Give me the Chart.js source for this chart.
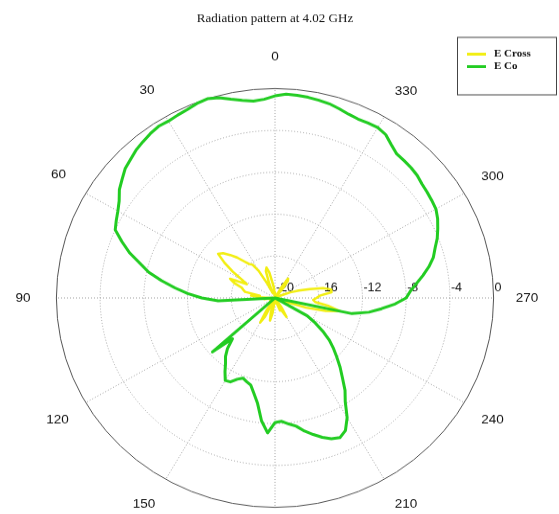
<!DOCTYPE html>
<html>
<head>
<meta charset="utf-8">
<script src="https://cdn.jsdelivr.net/npm/chart.js@4"></script>
<style>
  html, body { margin: 0; padding: 0; background: #fff; overflow: hidden; }
  body { position: relative; width: 559px; height: 514px; }
</style>
</head>
<body>
<!-- a bit wider than the window and squashed vertically, like the source picture -->
<canvas id="polar" width="620" height="571" style="position:absolute;left:-35px;top:0;width:620px;height:547px"></canvas>
<script>
// ---- data ----
const chartTitle = 'Radiation pattern at 4.02 GHz';
const seriesNames = ['E Cross', 'E Co'];
const seriesColors = ['#f2ee12', '#22cc22'];
const angleStep = 3; // degrees between samples
const angleTicks = [0, 30, 60, 90, 120, 150, 180, 210, 240, 270, 300, 330];
const hiddenAngleTicks = [180]; // cut off at the bottom of the source
const rTicks = [-20, -16, -12, -8, -4, 0];

// values in dB, angle 0, 3, 6 ... 357 (counter-clockwise from top)
const eCross = [
  -19.5, -20, -19, -18.5, -17.5, -17.0, -17.3, -18.5, -19.5, -18.5,
  -17.0, -16.2, -16.0, -15.5, -14.8, -14.2, -13.6, -13.3, -14.3, -15.4,
  -16.5, -17.1, -15.5, -16.0, -16.8, -17.0, -17.2, -18.6, -17.8, -18.5,
  -19.5, -20, -19, -20, -20, -20, -19.5, -20, -20, -20,
  -20, -20, -19.5, -20, -20, -20, -20, -19.5, -20, -18.5,
  -17.3, -18, -20, -20, -19.5, -18.5, -17.8, -18.5, -20, -20,
  -20, -19.5, -20, -20, -20, -20, -19.5, -18.7, -19.5, -18.6,
  -17.9, -18.8, -20, -20, -20, -20, -20, -20, -20, -20,
  -20, -20, -20, -19, -17, -15.2, -13.9, -15.0, -16.3, -16.5,
  -16.2, -15.9, -14.8, -14.8, -15.5, -16.7, -17.7, -18.5, -19.5, -20,
  -20, -20, -20, -20, -20, -20, -20, -19, -18.0, -17.8,
  -18.8, -20, -20, -20, -20, -20, -20, -20, -20, -20
];
const eCo = [
  -0.7, -1.0, -1.1, -0.9, -0.6, -0.2, 0, -0.1, -0.3, -0.4,
  -0.5, -0.45, -0.6, -0.8, -1.0, -1.3, -1.55, -2.0, -2.4, -3.0,
  -3.4, -3.7, -4.0, -5.0, -6.0, -7.2, -8.2, -9.5, -10.8, -12.0,
  -13.3, -14.8, -20, -20, -20, -20, -20, -20, -20, -20,
  -20, -20, -20, -20, -12.3, -14.5, -13.5, -12.8, -12.3, -11.6,
  -10.9, -11.0, -11.5, -11.8, -11.6, -11.4, -10.7, -9.8, -8.2, -7.1,
  -8.1, -8.2, -7.9, -7.6, -7.0, -6.5, -6.0, -5.6, -5.4, -5.8,
  -6.8, -8.2, -9.1, -10.2, -11.1, -12.0, -12.8, -13.6, -14.6, -15.6,
  -16.6, -20, -20, -20, -20, -20, -12.8, -11.3, -10.2, -9.0,
  -8.0, -7.6, -7.0, -6.3, -5.6, -5.0, -4.6, -4.1, -3.7, -3.3,
  -3.0, -2.9, -2.8, -2.7, -2.5, -2.4, -2.35, -2.3, -1.9, -1.4,
  -1.2, -1.25, -1.3, -1.2, -1.0, -0.8, -0.7, -0.6, -0.55, -0.5
];

// ---- fonts ----
const sansFamily = '"Liberation Sans", Arial, Helvetica, sans-serif';
const serifFamily = '"Liberation Serif", "Times New Roman", serif';
const labelSize = 13.5;
const labelGap = 33.3; // label centre distance outside the outer ring

// radar goes clockwise, the source goes counter-clockwise
const chartLabels = [];
const crossData = [];
const coData = [];
const count = 360 / angleStep;
for (let i = 0; i < count; i++) {
    const a = (360 - i * angleStep) % 360;
    chartLabels.push(a);
    crossData.push(eCross[a / angleStep]);
    coData.push(eCo[a / angleStep]);
}
const idx270 = chartLabels.indexOf(270);

const measureCtx = document.createElement('canvas').getContext('2d');
measureCtx.font = labelSize + 'px ' + sansFamily;
function textWidth(t) {
    return measureCtx.measureText(t).width;
}

// tick values along the 270 direction, under the curves
const tickTextPlugin = {
    id: 'tickText',
    beforeDatasetsDraw(chart) {
        const r = chart.scales.r;
        const ctx = chart.ctx;
        ctx.save();
        ctx.font = '12.5px ' + sansFamily;
        ctx.fillStyle = '#111';
        ctx.textAlign = 'left';
        ctx.textBaseline = 'middle';
        rTicks.forEach(function (v) {
            const p = r.getPointPositionForValue(idx270, v);
            ctx.fillText(String(v), p.x + 1, p.y - 10);
        });
        ctx.restore();
    }
};

// boxed legend in the top right corner
const boxLegendPlugin = {
    id: 'boxLegend',
    afterDraw(chart) {
        const ctx = chart.ctx;
        const x0 = 492, y0 = 38.5, w = 99, h = 60;
        ctx.save();
        ctx.fillStyle = '#fff';
        ctx.fillRect(x0, y0, w, h);
        ctx.strokeStyle = '#444';
        ctx.lineWidth = 1;
        ctx.strokeRect(x0 + 0.5, y0 + 0.5, w, h);
        ctx.font = 'bold 11px ' + serifFamily;
        ctx.textAlign = 'left';
        ctx.textBaseline = 'middle';
        chart.data.datasets.forEach(function (ds, i) {
            const y = y0 + 18 + i * 13;
            ctx.strokeStyle = ds.borderColor;
            ctx.lineWidth = 3;
            ctx.beginPath();
            ctx.moveTo(x0 + 10, y);
            ctx.lineTo(x0 + 29, y);
            ctx.stroke();
            ctx.fillStyle = '#111';
            ctx.fillText(ds.label, x0 + 37, y);
        });
        ctx.restore();
    }
};

new Chart(document.getElementById('polar'), {
    type: 'radar',
    data: {
        labels: chartLabels,
        datasets: [{
            label: seriesNames[0],
            data: crossData,
            borderColor: seriesColors[0],
            borderWidth: 2.5,
            order: 1
        }, {
            label: seriesNames[1],
            data: coData,
            borderColor: seriesColors[1],
            borderWidth: 3,
            order: 0
        }]
    },
    options: {
        responsive: false,
        animation: false,
        layout: { padding: 0 },
        elements: {
            point: { radius: 0, hitRadius: 0 },
            line: { fill: false, tension: 0, borderJoinStyle: 'round' }
        },
        plugins: {
            legend: { display: false },
            tooltip: { enabled: false },
            title: {
                display: true,
                text: chartTitle,
                color: '#111',
                font: { family: serifFamily, size: 13, weight: 'normal' },
                padding: { top: 12, bottom: 23.4 }
            }
        },
        scales: {
            r: {
                min: rTicks[0],
                max: rTicks[rTicks.length - 1],
                ticks: { stepSize: 4, display: false },
                grid: {
                    circular: true,
                    color: function (ctx) {
                        return ctx.index === rTicks.length - 1 ? '#555' : '#a0a0a0';
                    },
                    lineWidth: function (ctx) {
                        return ctx.index === 0 ? 0 : 1;
                    }
                },
                border: {
                    dash: function (ctx) {
                        return ctx.index === rTicks.length - 1 ? [] : [1, 2];
                    }
                },
                angleLines: {
                    display: true,
                    color: '#a0a0a0',
                    lineWidth: function (ctx) {
                        return angleTicks.includes(chartLabels[ctx.index]) ? 1 : 0;
                    },
                    borderDash: [1, 2]
                },
                pointLabels: {
                    display: true,
                    color: '#111',
                    font: { family: sansFamily, size: labelSize },
                    callback: function (label) {
                        if (angleTicks.includes(label) && !hiddenAngleTicks.includes(label)) {
                            return String(label);
                        }
                        return '';
                    },
                    padding: function (ctx) {
                        const theta = ctx.index * 2 * Math.PI / chartLabels.length;
                        const text = ctx.label;
                        const w = text ? textWidth(text) : 0;
                        const h = labelSize * 1.2;
                        let p = labelGap - w / 2 * Math.abs(Math.sin(theta)) - h / 2 * Math.abs(Math.cos(theta));
                        if (!text) p -= 0.5;
                        return p;
                    }
                }
            }
        }
    },
    plugins: [tickTextPlugin, boxLegendPlugin]
});
</script>
</body>
</html>
